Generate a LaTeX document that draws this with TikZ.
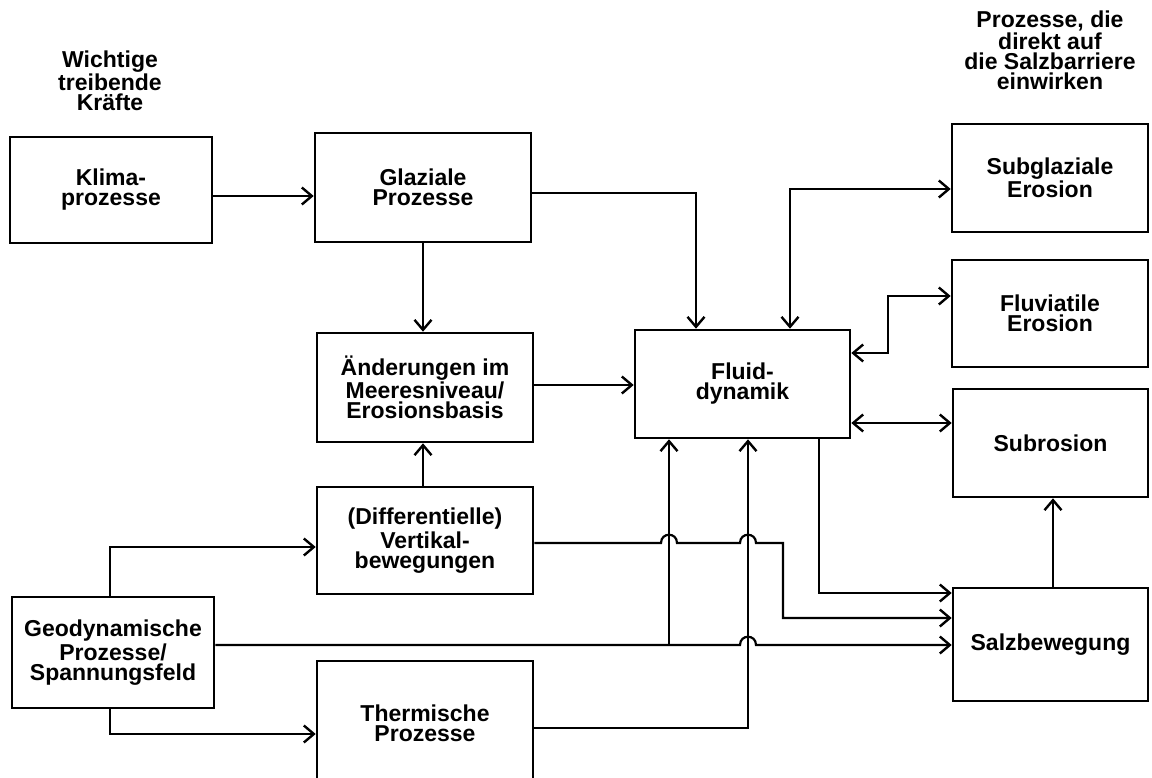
\documentclass[tikz,border=0pt]{standalone}
\usepackage{fontspec}
\setmainfont{Liberation Sans}
\usetikzlibrary{arrows.meta}
\newcommand\fs{\fontsize{11.5pt}{10pt}\selectfont\bfseries}
\begin{document}
\begin{tikzpicture}[x=0.5pt,y=-0.5pt,
  box/.style={draw, line width=1.3pt, align=center, inner sep=0pt, font=\fs},
  hd/.style={align=center, inner sep=0pt, font=\fs},
  conn/.style={line width=1.1pt},
  tip/.tip={Straight Barb[length=5pt,width=8.5pt,line width=1.2pt]},
  arr/.style={conn, -tip},
  darr/.style={conn, tip-tip}]
\clip (0,0) rectangle (1152,777);
\fill[white] (0,0) rectangle (1152,777);
% headings
\node[hd] (hl) at (110,81) {Wichtige\\treibende\\Kräfte};
\node[hd] (hr) at (1050,50) {Prozesse, die\\direkt auf\\die Salzbarriere\\einwirken};
% boxes
\node[box, minimum width=101pt, minimum height=53pt]   (klima) at (111,190)    {Klima-\\prozesse};
\node[box, minimum width=108pt, minimum height=54.5pt] (glaz)  at (423,187.5)  {Glaziale\\Prozesse};
\node[box, minimum width=108pt, minimum height=54.5pt] (aend)  at (425,387.5)  {Änderungen im\\Meeresniveau/\\Erosionsbasis};
\node[box, minimum width=107.5pt, minimum height=54pt] (fluid) at (742.5,384)  {Fluid-\\dynamik};
\node[box, minimum width=98pt, minimum height=54pt]    (subg)  at (1050,178)   {Subglaziale\\Erosion};
\node[box, minimum width=98pt, minimum height=53.5pt]  (fluv)  at (1050,313.5) {Fluviatile\\Erosion};
\node[box, minimum width=97.5pt, minimum height=54pt]  (subr)  at (1050.5,443) {Subrosion};
\node[box, minimum width=97.5pt, minimum height=56.5pt](salz)  at (1050.5,644.5) {Salzbewegung};
\node[box, minimum width=108pt, minimum height=53.5pt] (vert)  at (425,540.5)  {(Differentielle)\\Vertikal-\\bewegungen};
\node[box, minimum width=101pt, minimum height=55.5pt] (geo)   at (113,652.5)  {Geodynamische\\Prozesse/\\Spannungsfeld};
\node[box, minimum width=108pt, minimum height=62pt]   (therm) at (425,723)    {Thermische\\Prozesse};
% connectors
\draw[arr] (klima.east|-0,196) -- (glaz.west|-0,196);
\draw[arr] (glaz.east|-0,193) -| (fluid.north-|696,0);
\draw[arr] (glaz.south) -- (glaz.south|-aend.north);
\draw[arr] (aend.east|-0,385) -- (fluid.west|-0,385);
\draw[arr] (vert.north-|glaz.south) -- (aend.south-|glaz.south);
\draw[darr] (fluid.north-|790,0) |- (subg.west|-0,189);
\draw[darr] (fluid.east|-0,353) -- (888,353) -- (888,296) -- (fluv.west|-0,296);
\draw[darr] (fluid.east|-0,423) -- (subr.west|-0,423);
\draw[arr] (salz.north-|1053,0) -- (subr.south-|1053,0);
\draw[arr] (fluid.south-|819,0) |- (salz.west|-0,593);
\draw[arr] (vert.east|-0,543) -- (661,543) .. controls (661,532) and (677,532) .. (677,543)
  -- (740,543) .. controls (740,532) and (756,532) .. (756,543)
  -- (783,543) |- (salz.west|-0,618);
\draw[arr] (geo.east|-0,645) -- (740,645) .. controls (740,634) and (756,634) .. (756,645)
  -- (salz.west|-0,645);
\coordinate (j1) at (669,645);
\draw[arr] (j1) -- (fluid.south-|j1);
\draw[arr] (therm.east|-0,728) -| (fluid.south-|748,0);
\draw[arr] (geo.north-|110,0) |- (vert.west|-0,547);
\draw[arr] (geo.south-|110,0) |- (therm.west|-0,734);
\end{tikzpicture}
\end{document}
